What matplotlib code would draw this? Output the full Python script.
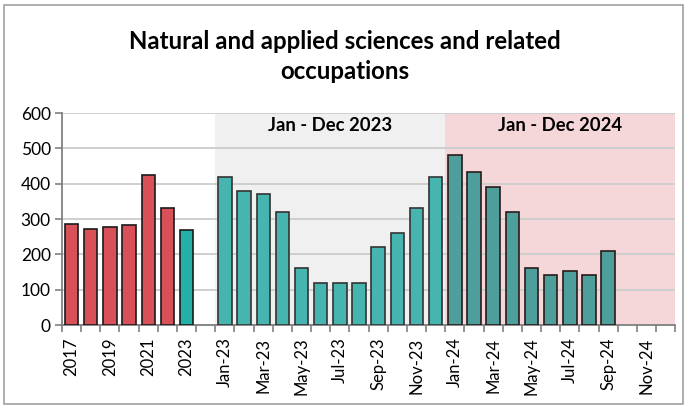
import matplotlib
matplotlib.use("Agg")
import matplotlib.pyplot as plt
from matplotlib.patches import Rectangle
import numpy as np

plt.rcParams['font.family'] = ['Lato', 'DejaVu Sans']

annual_labels = ["2017", "2018", "2019", "2020", "2021", "2022", "2023"]
annual_values = [285, 272, 277, 282, 424, 330, 268]
months_2023 = ["Jan-23", "Feb-23", "Mar-23", "Apr-23", "May-23", "Jun-23",
               "Jul-23", "Aug-23", "Sep-23", "Oct-23", "Nov-23", "Dec-23"]
values_2023 = [420, 380, 370, 320, 160, 120, 120, 120, 220, 260, 330, 420]
months_2024 = ["Jan-24", "Feb-24", "Mar-24", "Apr-24", "May-24", "Jun-24",
               "Jul-24", "Aug-24", "Sep-24", "Oct-24", "Nov-24", "Dec-24"]
values_2024 = [480, 432, 392, 320, 160, 142, 152, 142, 210, None, None, None]

labels = annual_labels + [""] + months_2023 + months_2024
n = len(labels)

fig = plt.figure(figsize=(6.89, 4.08), dpi=100)
ax = fig.add_axes([0.09, 0.2034, 0.89, 0.5196])

x_annual = np.arange(len(annual_labels))
x_2023 = np.arange(len(months_2023)) + len(annual_labels) + 1
x_2024 = x_2023 + len(months_2023)

# shaded regions
ax.axvspan(x_2023[0] - 0.5, x_2023[-1] + 0.5, color="#F0F0F0", zorder=0, lw=0)
ax.axvspan(x_2024[0] - 0.5, x_2024[-1] + 0.5, color="#F6D7D9", zorder=0, lw=0)

bw = 0.7
ann_colors = ["#D85158"] * (len(annual_labels) - 1) + ["#23B0A9"]
ax.bar(x_annual, annual_values, width=bw, color=ann_colors, edgecolor="#1a1a1a", lw=1.2, zorder=3)
ax.bar(x_2023, values_2023, width=bw, color="#46B4AF", edgecolor="#333333", lw=1.2, zorder=3)
v24 = [v if v is not None else 0 for v in values_2024]
mask = [v is not None for v in values_2024]
ax.bar(x_2024[mask], np.array(v24)[mask], width=bw, color="#4E9F9C", edgecolor="#2a1a1a", lw=1.2, zorder=3)

ax.set_ylim(0, 600)
ax.set_xlim(-0.5, n - 0.5)
ax.set_yticks(range(0, 601, 100))
ax.yaxis.grid(True, color="#CFCFCF", lw=1.4, zorder=1)
ax.set_axisbelow(True)

ax.set_xticks(np.arange(n))
ax.set_xticklabels([l if i % 2 == 0 else "" for i, l in enumerate(labels)], rotation=90, fontsize=12)
ax.tick_params(axis='x', which='major', length=0, pad=9)
ax.set_xticks(np.arange(n + 1) - 0.5, minor=True)
ax.tick_params(axis='x', which='minor', length=5, color="#808080", width=1.2)
ax.tick_params(axis='y', length=5, color="#808080", width=1.2, labelsize=12.5, pad=3)

for s in ["top", "right"]:
    ax.spines[s].set_visible(False)
for s in ["left", "bottom"]:
    ax.spines[s].set_color("#808080")
    ax.spines[s].set_linewidth(1.3)

ax.text((x_2023[0] + x_2023[-1]) / 2, 565, "Jan - Dec 2023", ha="center", va="center",
        fontsize=13.3, fontweight="bold")
ax.text((x_2024[0] + x_2024[-1]) / 2, 565, "Jan - Dec 2024", ha="center", va="center",
        fontsize=13.3, fontweight="bold")

fig.text(0.5, 0.862, "Natural and applied sciences and related\noccupations", ha="center", va="center",
         fontsize=17.3, fontweight="bold", linespacing=1.35)

fig.patches.append(Rectangle((0.006, 0.01), 0.985, 0.978, transform=fig.transFigure,
                             fill=False, edgecolor="#A0A0A0", lw=1.2))

fig.savefig("out.png", dpi=100)
